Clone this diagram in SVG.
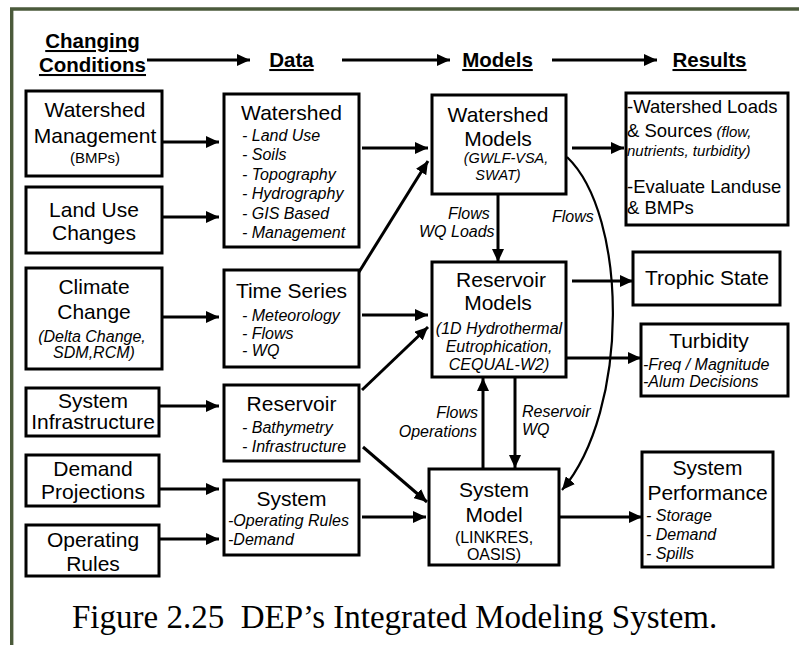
<svg xmlns="http://www.w3.org/2000/svg" width="799" height="645" viewBox="0 0 799 645">
<style>
text{font-family:"Liberation Sans",Arial,sans-serif;fill:#000}
.hd{font-weight:bold;font-size:20.5px;text-decoration:underline;text-anchor:middle}
.tt{font-size:21px;text-anchor:middle}
.it{font-style:italic;font-size:16px}
.itc{font-style:italic;font-size:16px;text-anchor:middle}
.sm{font-size:16px;text-anchor:middle}
.rs{font-size:18.5px}
.box{fill:#fff;stroke:#000;stroke-width:3}
.ln{fill:none;stroke:#000;stroke-width:3}
.cv{fill:none;stroke:#000;stroke-width:2.2}
.cap{font-family:"Liberation Serif","Times New Roman",serif;font-size:33px}
</style>
<defs>
<marker id="ah" markerUnits="userSpaceOnUse" markerWidth="14" markerHeight="12" refX="13" refY="6" orient="auto">
<path d="M0,0 L13,6 L0,12 z" fill="#000"/>
</marker>
</defs>
<rect x="0" y="0" width="799" height="645" fill="#fff"/>
<path d="M11.7,645 L11.7,9 L799,9" fill="none" stroke="#4b5a3b" stroke-width="3.4"/>

<g id="headers">
<text class="hd" x="92.5" y="48">Changing</text>
<text class="hd" x="92.5" y="72">Conditions</text>
<text class="hd" x="291.5" y="67">Data</text>
<text class="hd" x="497.5" y="67">Models</text>
<text class="hd" x="709.5" y="67">Results</text>
</g>

<g id="connectors">
<line class="ln" x1="147" y1="60" x2="250" y2="60" marker-end="url(#ah)"/>
<line class="ln" x1="342" y1="60" x2="450" y2="60" marker-end="url(#ah)"/>
<line class="ln" x1="552" y1="60" x2="657" y2="60" marker-end="url(#ah)"/>

<line class="ln" x1="162" y1="142" x2="219" y2="142" marker-end="url(#ah)"/>
<line class="ln" x1="162" y1="217" x2="219" y2="217" marker-end="url(#ah)"/>
<line class="ln" x1="162" y1="317" x2="219" y2="317" marker-end="url(#ah)"/>
<line class="ln" x1="159" y1="406" x2="219" y2="406" marker-end="url(#ah)"/>
<line class="ln" x1="159" y1="489" x2="219" y2="489" marker-end="url(#ah)"/>
<line class="ln" x1="159" y1="539" x2="219" y2="539" marker-end="url(#ah)"/>

<line class="ln" x1="362" y1="148" x2="428" y2="148" marker-end="url(#ah)"/>
<line class="ln" x1="359" y1="272" x2="428" y2="161" marker-end="url(#ah)"/>
<line class="ln" x1="362" y1="315" x2="428" y2="315" marker-end="url(#ah)"/>
<line class="ln" x1="362" y1="390" x2="428" y2="327" marker-end="url(#ah)"/>
<line class="ln" x1="363" y1="447" x2="427" y2="502" marker-end="url(#ah)"/>
<line class="ln" x1="362" y1="517" x2="426" y2="517" marker-end="url(#ah)"/>

<line class="ln" x1="572" y1="148" x2="624" y2="148" marker-end="url(#ah)"/>
<line class="ln" x1="572" y1="281" x2="633" y2="281" marker-end="url(#ah)"/>
<line class="ln" x1="566" y1="358" x2="641" y2="358" marker-end="url(#ah)"/>
<line class="ln" x1="559" y1="517" x2="642" y2="517" marker-end="url(#ah)"/>

<line class="ln" x1="498" y1="194" x2="498" y2="262" marker-end="url(#ah)"/>
<line class="ln" x1="483" y1="469" x2="483" y2="378" marker-end="url(#ah)"/>
<line class="ln" x1="515" y1="377" x2="515" y2="468" marker-end="url(#ah)"/>
<path class="cv" d="M567,157 C628,215 630,410 562,490" marker-end="url(#ah)"/>

<text class="it" x="448" y="219">Flows</text>
<text class="it" x="419" y="237">WQ Loads</text>
<text class="it" x="552" y="222">Flows</text>
<text class="it" x="478" y="418" text-anchor="end">Flows</text>
<text class="it" x="477" y="437" text-anchor="end">Operations</text>
<text class="it" x="522" y="417">Reservoir</text>
<text class="it" x="522" y="435">WQ</text>
</g>

<g id="watershed-management">
<rect class="box" x="26" y="91" width="136" height="85"/>
<text class="tt" x="95" y="117">Watershed</text>
<text class="tt" x="95" y="143">Management</text>
<text class="sm" x="95" y="163" style="font-size:15px">(BMPs)</text>
</g>
<g id="land-use-changes">
<rect class="box" x="26" y="187" width="136" height="66"/>
<text class="tt" x="94" y="217">Land Use</text>
<text class="tt" x="94" y="240">Changes</text>
</g>
<g id="climate-change">
<rect class="box" x="26" y="268" width="136" height="101"/>
<text class="tt" x="94" y="294">Climate</text>
<text class="tt" x="94" y="319">Change</text>
<text class="itc" x="92" y="342">(Delta Change,</text>
<text class="itc" x="94" y="358">SDM,RCM)</text>
</g>
<g id="system-infrastructure">
<rect class="box" x="26" y="388" width="133" height="48"/>
<text class="tt" x="93" y="408">System</text>
<text class="tt" x="93" y="429">Infrastructure</text>
</g>
<g id="demand-projections">
<rect class="box" x="26" y="455" width="133" height="51"/>
<text class="tt" x="93" y="476">Demand</text>
<text class="tt" x="93" y="499">Projections</text>
</g>
<g id="operating-rules">
<rect class="box" x="26" y="525" width="133" height="51"/>
<text class="tt" x="93" y="547">Operating</text>
<text class="tt" x="93" y="571">Rules</text>
</g>

<g id="data-watershed">
<rect class="box" x="224" y="94" width="135" height="153"/>
<text class="tt" x="291.5" y="120">Watershed</text>
<text class="it" x="242" y="141">- Land Use</text>
<text class="it" x="242" y="160">- Soils</text>
<text class="it" x="242" y="180">- Topography</text>
<text class="it" x="242" y="199">- Hydrography</text>
<text class="it" x="242" y="219">- GIS Based</text>
<text class="it" x="242" y="238">- Management</text>
</g>
<g id="data-time-series">
<rect class="box" x="224" y="270" width="135" height="97"/>
<text class="tt" x="291.5" y="298">Time Series</text>
<text class="it" x="242" y="321">- Meteorology</text>
<text class="it" x="242" y="339">- Flows</text>
<text class="it" x="242" y="356">- WQ</text>
</g>
<g id="data-reservoir">
<rect class="box" x="224" y="385" width="135" height="76"/>
<text class="tt" x="291.5" y="411">Reservoir</text>
<text class="it" x="242" y="433">- Bathymetry</text>
<text class="it" x="242" y="452">- Infrastructure</text>
</g>
<g id="data-system">
<rect class="box" x="224" y="480" width="135" height="75"/>
<text class="tt" x="291.5" y="506">System</text>
<text class="it" x="228" y="526">-Operating Rules</text>
<text class="it" x="228" y="545">-Demand</text>
</g>

<g id="watershed-models">
<rect class="box" x="432" y="95" width="134" height="99"/>
<text class="tt" x="498" y="122">Watershed</text>
<text class="tt" x="498" y="146">Models</text>
<text class="itc" x="506" y="163" style="font-size:14.5px">(GWLF-VSA,</text>
<text class="itc" x="498" y="180" style="font-size:14.5px">SWAT)</text>
</g>
<g id="reservoir-models">
<rect class="box" x="432" y="262" width="134" height="115"/>
<text class="tt" x="501" y="287">Reservoir</text>
<text class="tt" x="498" y="310">Models</text>
<text class="itc" x="499" y="334">(1D Hydrothermal</text>
<text class="itc" x="499" y="352">Eutrophication,</text>
<text class="itc" x="499" y="370">CEQUAL-W2)</text>
</g>
<g id="system-model">
<rect class="box" x="429" y="469" width="130" height="96"/>
<text class="tt" x="494" y="497">System</text>
<text class="tt" x="494" y="522">Model</text>
<text class="sm" x="494" y="543">(LINKRES,</text>
<text class="sm" x="494" y="560">OASIS)</text>
</g>

<g id="results-watershed">
<rect class="box" x="626" y="93" width="162" height="132"/>
<text class="rs" x="627" y="113">-Watershed Loads</text>
<text class="rs" x="627" y="137">&amp; Sources<tspan style="font-style:italic;font-size:15px"> (flow,</tspan></text>
<text class="it" x="627" y="156" style="font-size:15px">nutrients, turbidity)</text>
<text class="rs" x="627" y="193">-Evaluate Landuse</text>
<text class="rs" x="627" y="214">&amp; BMPs</text>
</g>
<g id="trophic-state">
<rect class="box" x="633" y="252" width="147" height="53"/>
<text class="tt" x="707" y="285">Trophic State</text>
</g>
<g id="turbidity">
<rect class="box" x="641" y="324" width="147" height="72"/>
<text class="tt" x="709" y="348">Turbidity</text>
<text class="it" x="643" y="370">-Freq / Magnitude</text>
<text class="it" x="643" y="387">-Alum Decisions</text>
</g>
<g id="system-performance">
<rect class="box" x="642" y="452" width="131" height="115"/>
<text class="tt" x="707.5" y="475">System</text>
<text class="tt" x="707.5" y="500">Performance</text>
<text class="it" x="646" y="521">- Storage</text>
<text class="it" x="646" y="540">- Demand</text>
<text class="it" x="646" y="559">- Spills</text>
</g>

<text class="cap" x="72" y="628" xml:space="preserve">Figure 2.25  DEP’s Integrated Modeling System.</text>
</svg>
